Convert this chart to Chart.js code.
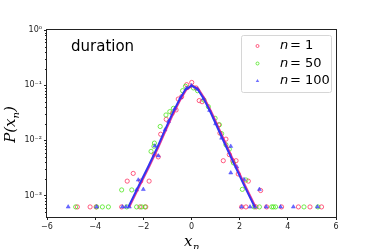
<!DOCTYPE html>
<html>
<head>
<meta charset="utf-8">
<script src="https://cdn.jsdelivr.net/npm/chart.js@4.4.0/dist/chart.umd.min.js"></script>
<style>
    html, body { margin: 0; padding: 0; background: #fff; }
</style>
</head>
<body>
<canvas id="chart" width="374" height="249"></canvas>
<script>
// values (x_n, P(x_n))
const n1X = [-4.74, -4.21, -3.96, -2.90, -2.67, -2.42, -2.14, -2.11, -1.90, -1.76, -1.55, -1.38, -1.28, -1.05, -0.80, -0.64, -0.55, -0.41, -0.20, 0.01, 0.19, 0.32, 0.44, 1.13, 1.18, 1.32, 1.43, 1.57, 1.71, 1.85, 1.94, 2.08, 2.26, 2.36, 2.68, 2.87, 3.12, 3.74, 4.44, 4.92, 5.40];
const n1Y = [6.2e-4, 6.2e-4, 6.2e-4, 6.2e-4, 1.82e-3, 2.51e-3, 6.2e-4, 1.82e-3, 6.2e-4, 1.82e-3, 5.6e-3, 5.0e-3, 0.0129, 0.024, 0.0309, 0.0355, 0.056, 0.0617, 0.102, 0.112, 0.0891, 0.0525, 0.0501, 0.0191, 0.0135, 4.27e-3, 0.0105, 5.5e-3, 4.27e-3, 4.27e-3, 2.45e-3, 6.2e-4, 6.2e-4, 1.82e-3, 6.2e-4, 1.23e-3, 6.2e-4, 6.2e-4, 6.2e-4, 6.2e-4, 6.2e-4];

const n50X = [-4.81, -3.94, -3.70, -3.45, -2.90, -2.69, -2.48, -2.28, -2.07, -1.93, -1.68, -1.56, -1.54, -1.30, -1.06, -0.90, -0.75, -0.37, -0.25, 0.08, 0.25, 0.52, 0.70, 0.98, 1.16, 1.25, 1.43, 1.57, 1.74, 2.11, 2.26, 2.60, 2.82, 3.33, 3.40, 3.49, 4.67, 5.25];
const n50Y = [6.2e-4, 6.2e-4, 6.2e-4, 6.2e-4, 1.26e-3, 6.2e-4, 1.26e-3, 6.2e-4, 6.2e-4, 6.2e-4, 6.3e-3, 7.8e-3, 8.9e-3, 0.0178, 0.0288, 0.0331, 0.038, 0.0794, 0.0955, 0.0891, 0.0794, 0.0537, 0.0407, 0.0251, 0.0191, 0.0132, 8.3e-3, 6.9e-3, 3.9e-3, 1.29e-3, 1.91e-3, 6.2e-4, 6.2e-4, 6.2e-4, 6.2e-4, 6.2e-4, 6.2e-4, 6.2e-4];

const n100X = [-5.12, -3.94, -2.87, -2.72, -2.58, -2.28, -2.21, -2.00, -1.52, -1.38, -1.10, -0.95, -0.70, -0.45, -0.20, 0.00, 0.25, 0.50, 0.75, 1.00, 1.25, 1.63, 1.63, 1.88, 2.08, 2.18, 2.43, 2.64, 2.82, 3.10, 3.70, 4.23, 5.23];
const n100Y = [6.2e-4, 6.2e-4, 6.2e-4, 6.2e-4, 6.2e-4, 1.26e-3, 1.91e-3, 1.29e-3, 7.9e-3, 5.25e-3, 0.0155, 0.022, 0.037, 0.059, 0.088, 0.098, 0.085, 0.0575, 0.035, 0.02, 0.011, 7.8e-3, 2.57e-3, 3.31e-3, 6.2e-4, 1.95e-3, 6.2e-4, 6.2e-4, 1.29e-3, 6.2e-4, 6.2e-4, 6.2e-4, 6.2e-4];

// fitted curves
const fitBlueX = [-2.62, -2.20, -1.79, -1.40, -1.10, -0.80, -0.50, -0.25, 0.00, 0.25, 0.50, 0.80, 1.10, 1.40, 1.79, 2.20, 2.62];
const fitRedX = [-2.58, -2.16, -1.75, -1.36, -1.06, -0.76, -0.46, -0.21, 0.04, 0.29, 0.54, 0.84, 1.14, 1.44, 1.83, 2.24, 2.66];
const fitY = [6.2e-4, 1.48e-3, 3.39e-3, 7.76e-3, 0.0155, 0.0302, 0.055, 0.0832, 0.0977, 0.0851, 0.0575, 0.0316, 0.0162, 8.32e-3, 3.55e-3, 1.48e-3, 6.2e-4];

const seriesLabels = ["1", "50", "100"];
const xTickValues = [-6, -4, -2, 0, 2, 4, 6];
const yTickValues = [1e-3, 1e-2, 1e-1, 1];
const yTickLabels = ["10\u207B\u00B3", "10\u207B\u00B2", "10\u207B\u00B9", "10\u2070"];
const panelLabel = "duration";

const RED = "rgba(255, 40, 90, 0.75)";
const GREEN = "rgba(70, 230, 20, 0.75)";
const BLUE = "rgba(50, 50, 255, 0.7)";

function toPoints(xs, ys) {
    return xs.map((x, i) => ({ x: x, y: ys[i] }));
}

const legendMarks = [
    { style: "circle", color: RED },
    { style: "circle", color: GREEN },
    { style: "triangle", color: BLUE },
];

const overlay = {
    id: "overlay",
    afterDraw(chart) {
        const ctx = chart.ctx;
        const area = chart.chartArea;
        const yScale = chart.scales.y;

        ctx.save();
        // frame
        ctx.strokeStyle = "#222";
        ctx.lineWidth = 1;
        ctx.strokeRect(area.left - 0.5, area.top - 0.5, area.right - area.left + 1, area.bottom - area.top + 1);

        // minor log ticks
        ctx.beginPath();
        for (let d = -4; d < 0; d++) {
            for (let k = 2; k <= 9; k++) {
                const v = k * Math.pow(10, d);
                if (v < yScale.min || v > yScale.max) continue;
                const py = Math.round(yScale.getPixelForValue(v)) + 0.5;
                ctx.moveTo(area.left - 2, py);
                ctx.lineTo(area.left, py);
            }
        }
        ctx.stroke();

        // panel text
        ctx.fillStyle = "#000";
        ctx.font = "15px 'DejaVu Sans'";
        ctx.textBaseline = "alphabetic";
        ctx.textAlign = "left";
        ctx.fillText(panelLabel, 71, 51);

        // legend box
        const lx = 241, ly = 35, lw = 90, lh = 57;
        ctx.fillStyle = "rgba(255,255,255,0.8)";
        ctx.strokeStyle = "#d6d6d6";
        ctx.beginPath();
        ctx.roundRect(lx + 0.5, ly + 0.5, lw, lh, 2);
        ctx.fill();
        ctx.stroke();

        const rows = [46, 63.5, 81];
        rows.forEach((ry, i) => {
            const m = legendMarks[i];
            ctx.save();
            ctx.strokeStyle = m.color;
            ctx.fillStyle = m.color;
            ctx.lineWidth = 1;
            ctx.beginPath();
            if (m.style === "circle") {
                ctx.arc(257.5, ry, 1.5, 0, Math.PI * 2);
                ctx.stroke();
            } else {
                const r = 2;
                ctx.moveTo(257.5, ry - r);
                ctx.lineTo(257.5 + r * 0.87, ry + r * 0.5);
                ctx.lineTo(257.5 - r * 0.87, ry + r * 0.5);
                ctx.closePath();
                ctx.fill();
            }
            ctx.restore();

            ctx.fillStyle = "#000";
            ctx.font = "italic 13px 'DejaVu Sans'";
            ctx.textBaseline = "middle";
            ctx.fillText("n", 280, ry);
            ctx.font = "13px 'DejaVu Sans'";
            ctx.fillText("= " + seriesLabels[i], 290, ry);
        });

        // axis labels
        ctx.fillStyle = "#000";
        ctx.textBaseline = "alphabetic";
        ctx.textAlign = "left";
        ctx.font = "italic 15px 'DejaVu Serif'";
        ctx.fillText("x", 184, 246);
        ctx.font = "italic 10px 'DejaVu Serif'";
        ctx.fillText("n", 193, 250);

        ctx.translate(15, 124.5);
        ctx.rotate(-Math.PI / 2);
        ctx.font = "italic 15px 'DejaVu Serif'";
        const p1 = "P(x";
        const w1 = ctx.measureText(p1).width;
        ctx.font = "italic 10px 'DejaVu Serif'";
        const w2 = ctx.measureText("n").width;
        ctx.font = "italic 15px 'DejaVu Serif'";
        const w3 = ctx.measureText(")").width;
        let sx = -(w1 + w2 + w3) / 2;
        ctx.fillText(p1, sx, 0);
        sx += w1;
        ctx.font = "italic 10px 'DejaVu Serif'";
        ctx.fillText("n", sx, 4);
        sx += w2;
        ctx.font = "italic 15px 'DejaVu Serif'";
        ctx.fillText(")", sx, 0);
        ctx.restore();
    },
};

const ctx = document.getElementById("chart");

new Chart(ctx, {
    type: "scatter",
    data: {
        datasets: [
            {
                label: "fit blue",
                data: toPoints(fitBlueX, fitY),
                showLine: true,
                borderColor: "#3434f0",
                borderWidth: 2,
                pointRadius: 0,
                order: 0,
            },
            {
                label: "fit red",
                data: toPoints(fitRedX, fitY),
                showLine: true,
                borderColor: "rgba(230, 20, 130, 0.85)",
                borderWidth: 2,
                pointRadius: 0,
                order: 1,
            },
            {
                label: "n = 100",
                data: toPoints(n100X, n100Y),
                pointStyle: "triangle",
                pointRadius: 2.3,
                borderWidth: 0.6,
                borderColor: BLUE,
                backgroundColor: BLUE,
                order: 2,
            },
            {
                label: "n = 50",
                data: toPoints(n50X, n50Y),
                pointStyle: "circle",
                pointRadius: 2.1,
                borderWidth: 1,
                borderColor: GREEN,
                backgroundColor: "rgba(0,0,0,0)",
                order: 3,
            },
            {
                label: "n = 1",
                data: toPoints(n1X, n1Y),
                pointStyle: "circle",
                pointRadius: 2.1,
                borderWidth: 1,
                borderColor: RED,
                backgroundColor: "rgba(0,0,0,0)",
                order: 4,
            },
        ],
    },
    options: {
        responsive: false,
        animation: false,
        devicePixelRatio: 1,
        layout: {
            padding: { left: 0, top: 30, right: 38, bottom: 0 },
        },
        plugins: {
            legend: { display: false },
            tooltip: { enabled: false },
        },
        scales: {
            x: {
                type: "linear",
                min: -6,
                max: 6,
                afterBuildTicks: (scale) => {
                    scale.ticks = xTickValues.map((v) => ({ value: v }));
                },
                afterFit: (scale) => {
                    scale.height = 32;
                },
                ticks: {
                    color: "#222",
                    font: { family: "DejaVu Sans", size: 8 },
                    padding: 2,
                    maxRotation: 0,
                    callback: (v) => (v < 0 ? "\u2212" + Math.abs(v) : String(v)),
                },
                grid: {
                    drawOnChartArea: false,
                    drawTicks: true,
                    tickLength: 3,
                    color: "#222",
                },
                border: { display: false },
            },
            y: {
                type: "logarithmic",
                min: 4.07e-4,
                max: 1,
                afterBuildTicks: (scale) => {
                    scale.ticks = yTickValues.map((v) => ({ value: v }));
                },
                afterFit: (scale) => {
                    scale.width = 47;
                },
                ticks: {
                    color: "#222",
                    font: { family: "DejaVu Sans", size: 8 },
                    padding: 2,
                    callback: (v) => {
                        const i = yTickValues.indexOf(v);
                        return i >= 0 ? yTickLabels[i] : "";
                    },
                },
                grid: {
                    drawOnChartArea: false,
                    drawTicks: true,
                    tickLength: 3,
                    color: "#222",
                },
                border: { display: false },
            },
        },
    },
    plugins: [overlay],
});
</script>
</body>
</html>
